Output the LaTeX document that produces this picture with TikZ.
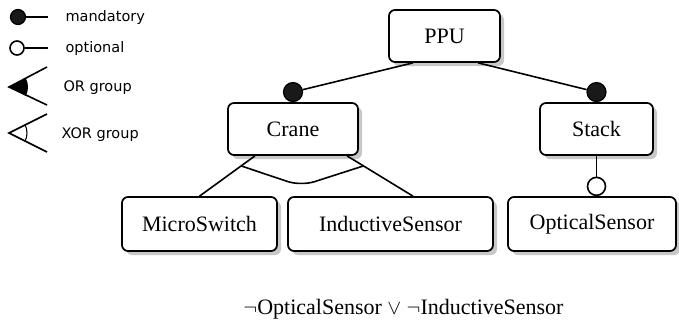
\documentclass[tikz,border=0pt]{standalone}
\usepackage{fontspec}
\setmainfont{Liberation Serif}
\newfontfamily\legendfont{DejaVu Sans}
\usepackage{tikz}
\usetikzlibrary{shadows,calc}
\tikzset{
    feature/.style={draw,line width=1.7pt,rounded corners=6pt,fill=white,
        minimum height=52pt,inner sep=0pt,font=\fontsize{22}{24}\selectfont,
        drop shadow={shadow xshift=4pt,shadow yshift=-4pt,fill=black!22,opacity=1}},
    mand/.style={circle,fill=black!90,draw,line width=1.2pt,minimum size=19pt,inner sep=0pt},
    opt/.style={circle,fill=white,draw,line width=1.6pt,minimum size=18pt,inner sep=0pt},
    legtext/.style={anchor=west,font=\legendfont\fontsize{14.5}{16}\selectfont},
    link/.style={line width=1.6pt}
}

\begin{document}
\begin{tikzpicture}[x=1pt,y=-1pt]
            \useasboundingbox (0,0) rectangle (679,325);
            \node[feature,minimum width=111pt] (PPU) at (444.5,36) {PPU};
            \node[feature,minimum width=130pt] (Crane) at (293,129) {Crane};
            \node[feature,minimum width=113pt] (Stack) at (596.5,129) {Stack};
            \node[feature,minimum width=155pt,minimum height=54pt] (MicroSwitch) at (199.5,224) {MicroSwitch};
            \node[feature,minimum width=205pt,minimum height=54pt] (InductiveSensor) at (390.5,224) {InductiveSensor};
            \node[feature,minimum width=168pt,minimum height=54pt] (OpticalSensor) at (592,224) {OpticalSensor};
            \node[mand,anchor=south] (mCrane) at (Crane.north) {};
            \node[mand,anchor=south] (mStack) at (Stack.north) {};
            \node[opt,anchor=south] (oOptical) at (OpticalSensor.north -| Stack.south) {};
            \draw[link] (mCrane) -- ([xshift=-31.5pt]PPU.south);
            \draw[link] (mStack) -- ([xshift=33.5pt]PPU.south);
            \draw[link] (Stack) -- (oOptical);
            \coordinate (gL) at ([xshift=-38pt]Crane.south);
            \coordinate (gR) at ([xshift=54pt]Crane.south);
            \coordinate (tR) at ([xshift=22.5pt]InductiveSensor.north);
            \draw[link] (gL) -- (MicroSwitch.north);
            \draw[link] (gR) -- (tR);
            \draw[link,rounded corners=14pt] ($(gL)!0.25!(MicroSwitch.north)$) -- (301,186) -- ($(gR)!0.25!(tR)$);
            \node[font=\fontsize{22}{24}\selectfont] (constraint) at (403.5,309) {$\neg$OpticalSensor $\vee$ $\neg$InductiveSensor};
            \node[mand,minimum size=15pt] (lMand) at (18,17) {};
            \coordinate (lMandEnd) at (48,17);
            \draw[link] (lMand) -- (lMandEnd);
            \node[legtext] (tMand) at (62,17) {mandatory};
            \node[opt,minimum size=14pt] (lOpt) at (17,48) {};
            \coordinate (lOptEnd) at (48,48);
            \draw[link] (lOpt) -- (lOptEnd);
            \node[legtext] (tOpt) at (62,48) {optional};
            \coordinate (orA) at (9,87);
            \coordinate (orU) at (47,67);
            \coordinate (orL) at (47,105);
            \fill (orA) -- ++(27.8:19) arc[start angle=27.8,end angle=-27.8,radius=19] -- cycle;
            \draw[link] (orU) -- (orA) -- (orL);
            \node[legtext] (tOr) at (60,88) {OR group};
            \coordinate (xorA) at (9,133);
            \coordinate (xorU) at (47,114);
            \coordinate (xorL) at (47,152);
            \draw[link] (xorU) -- (xorA) -- (xorL);
            \draw[line width=1.1pt] (xorA) ++(26.6:18) arc[start angle=26.6,end angle=-26.6,radius=18];
            \node[legtext] (tXor) at (58,135) {XOR group};
        \end{tikzpicture}
\end{document}
